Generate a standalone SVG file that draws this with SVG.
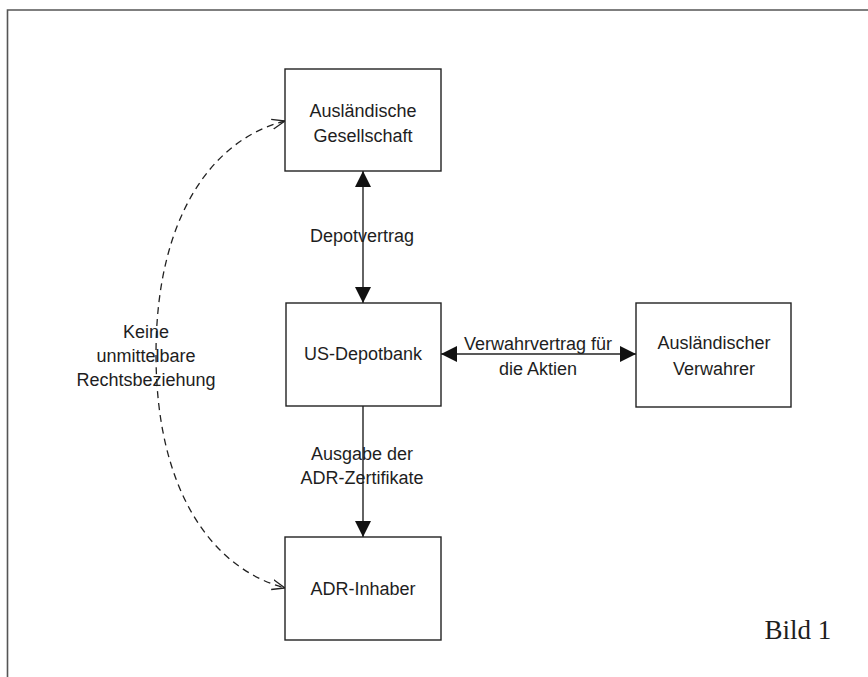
<svg xmlns="http://www.w3.org/2000/svg" width="868" height="677" viewBox="0 0 868 677">
  <style>
    .box { fill: #ffffff; stroke: #222222; stroke-width: 1.4; }
    .lbl { font-family: "Liberation Sans", Arial, sans-serif; font-size: 18px; fill: #1e1e1e; text-anchor: middle; }
    .link { fill: none; stroke: #222222; stroke-width: 1.4; }
    .dash { fill: none; stroke: #222222; stroke-width: 1.3; stroke-dasharray: 7 5; }
    .frame { fill: none; stroke: #555555; stroke-width: 1.6; }
  </style>
  <defs>
    <marker id="solidHead" viewBox="0 0 16 16" refX="16" refY="8" markerWidth="16" markerHeight="16" markerUnits="userSpaceOnUse" orient="auto-start-reverse">
      <path d="M0,0 L16,8 L0,16 Z" fill="#111111"/>
    </marker>
    <marker id="openHead" viewBox="0 0 14 12" refX="13" refY="6" markerWidth="14" markerHeight="12" markerUnits="userSpaceOnUse" orient="auto-start-reverse">
      <path d="M0,1 L13,6 L0,11" fill="none" stroke="#222222" stroke-width="1.3"/>
    </marker>
  </defs>

  <rect width="868" height="677" fill="#ffffff"/>

  <!-- page frame -->
  <path class="frame" d="M7.5,677 L7.5,10 L868,10"/>

  <!-- connectors -->
  <g id="connectors">
    <line class="link" x1="363" y1="171" x2="363" y2="303" marker-start="url(#solidHead)" marker-end="url(#solidHead)"/>
    <line class="link" x1="441" y1="354" x2="636" y2="354" marker-start="url(#solidHead)" marker-end="url(#solidHead)"/>
    <line class="link" x1="363" y1="406" x2="363" y2="537" marker-end="url(#solidHead)"/>
    <path class="dash" d="M285,121 C210,140 156,220 156,354 C156,488 210,568 285,588" marker-start="url(#openHead)" marker-end="url(#openHead)"/>

    <text class="lbl" x="362" y="242">Depotvertrag</text>
    <text class="lbl" x="538" y="350">Verwahrvertrag für</text>
    <text class="lbl" x="538" y="375">die Aktien</text>
    <text class="lbl" x="362" y="460">Ausgabe der</text>
    <text class="lbl" x="362" y="484">ADR-Zertifikate</text>
    <text class="lbl" x="146" y="338">Keine</text>
    <text class="lbl" x="146" y="362">unmittelbare</text>
    <text class="lbl" x="146" y="386">Rechtsbeziehung</text>
  </g>

  <g id="auslaendische-gesellschaft">
    <rect class="box" x="285" y="69" width="156" height="102"/>
    <text class="lbl" x="363" y="117">Ausländische</text>
    <text class="lbl" x="363" y="142">Gesellschaft</text>
  </g>

  <g id="us-depotbank">
    <rect class="box" x="286" y="303" width="155" height="103"/>
    <text class="lbl" x="363" y="360">US-Depotbank</text>
  </g>

  <g id="auslaendischer-verwahrer">
    <rect class="box" x="636" y="303" width="155" height="104"/>
    <text class="lbl" x="714" y="349">Ausländischer</text>
    <text class="lbl" x="714" y="375">Verwahrer</text>
  </g>

  <g id="adr-inhaber">
    <rect class="box" x="285" y="537" width="156" height="103"/>
    <text class="lbl" x="363" y="595">ADR-Inhaber</text>
  </g>

  <text x="798" y="639" font-family="'Liberation Serif', 'Times New Roman', serif" font-size="27" fill="#1e1e1e" text-anchor="middle">Bild 1</text>
</svg>
